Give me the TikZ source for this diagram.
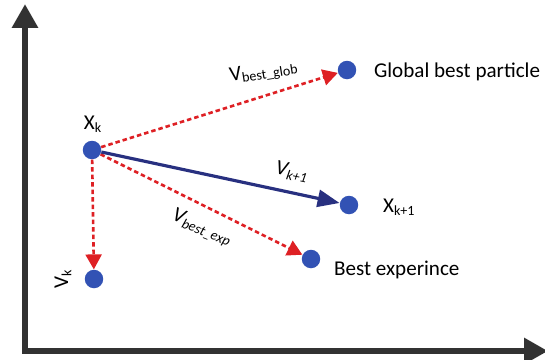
\documentclass[tikz,border=0pt]{standalone}
\usepackage{fontspec}
\setmainfont{Carlito}
\usepackage{xcolor}
\usetikzlibrary{arrows.meta}

\definecolor{dotblue}{RGB}{50,82,180}
\definecolor{velred}{RGB}{222,32,36}
\definecolor{velnavy}{RGB}{40,48,128}
\definecolor{axisgray}{RGB}{50,50,50}

\tikzset{
  dot/.style={circle,fill=dotblue,minimum size=0.37cm,inner sep=0pt},
  lbl/.style={font=\fontsize{12}{14}\selectfont,inner sep=1pt},
  redvel/.style={velred,line width=1.5pt,dash pattern=on 0.09cm off 0.06cm,
    -{Triangle[length=0.3cm,width=0.32cm]}},
  bluevel/.style={velnavy,line width=1.8pt,-{Triangle[length=0.44cm,width=0.34cm]}},
  axisline/.style={axisgray,line width=3.4pt,-{Triangle[length=0.48cm,width=0.5cm]}}
}

\begin{document}
\begin{tikzpicture}[x=0.02cm,y=-0.02cm]
    \useasboundingbox (0,0) rectangle (545,359);
    % axes
    \coordinate (orig) at (25,351);
    \coordinate (ytop) at (25,4);
    \coordinate (xend) at (548,351);
    \draw[axisline] (orig) -- (ytop);
    \draw[axisline] ([xshift=-1.7pt]orig) -- (xend);
    % particles
    \node[dot] (xk) at (92,150) {};
    \node[dot] (glob) at (347,70) {};
    \node[dot] (xnext) at (349,205) {};
    \node[dot] (bexp) at (311,259) {};
    \node[dot] (vk) at (94,279) {};
    \node[lbl] (xklbl) at (93,124) {X\textsubscript{k}};
    \node[lbl,right] (globlbl) at (372,72) {Global best particle};
    \node[lbl,right] (xnextlbl) at (381,207) {X\textsubscript{k+1}};
    \node[lbl,right] (bexplbl) at (332,270) {Best experince};
    \node[lbl,rotate=90] (vklbl) at (63,279) {V\textsubscript{k}};
    % velocities
    \draw[redvel] (xk) -- (glob);
    \draw[redvel] (xk) -- (bexp);
    \draw[redvel] (xk) -- (vk);
    \draw[bluevel] (xk) -- (xnext);
    \node[lbl,rotate=9] (globv) at (264,72) {V\textsubscript{best\_glob}};
    \node[lbl,rotate=-12] (nextv) at (292,172) {\textit{V\textsubscript{k+1}}};
    \node[lbl,rotate=-22] (expv) at (202,228) {\textit{V\textsubscript{best\_exp}}};
\end{tikzpicture}
\end{document}
